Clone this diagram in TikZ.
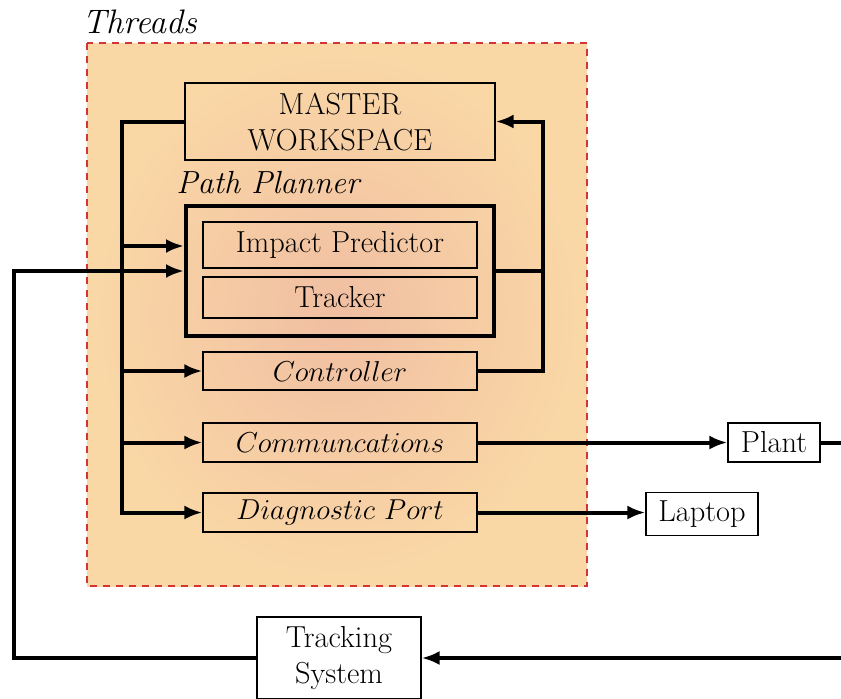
\documentclass[tikz,border=0pt]{standalone}
\usetikzlibrary{arrows.meta}
\definecolor{shin}{RGB}{240,190,162}
\definecolor{shout}{RGB}{250,216,166}
\definecolor{dashred}{RGB}{214,52,52}
\begin{document}
\begin{tikzpicture}[x=0.5pt,y=-0.5pt,
  box/.style={draw,line width=0.6pt,inner sep=0pt,minimum width=137pt,font=\fontsize{15.2}{18}\selectfont},
  obox/.style={draw,line width=0.6pt,inner sep=0pt,font=\fontsize{15.2}{18}\selectfont,fill=white},
  conn/.style={line width=2pt},
  arr/.style={-{Latex[length=9pt,width=7pt]}},
  lab/.style={anchor=west,inner sep=0pt}]
\useasboundingbox (0,0) rectangle (841,698);
\clip (0,0) rectangle (841,698);
% threads region
\shade[inner color=shin,outer color=shout] (87,43) rectangle (587,586);
\draw[dashred,line width=0.6pt,dash pattern=on 3.5pt off 3pt] (87,43) rectangle (587,586);
\node[lab,font=\fontsize{17}{20}\selectfont] (threads) at (82,22) {\textit{Threads}};
\node[lab,font=\fontsize{16}{19}\selectfont] (pplab) at (176,183) {\textit{Path Planner}};
% nodes
\node[box,minimum width=155pt,minimum height=38.5pt,align=center] (master) at (340,121.5) {MASTER\\WORKSPACE};
\node[draw,line width=2pt,inner sep=0pt,minimum width=154pt,minimum height=65pt] (pp) at (340,271) {};
\node[box,minimum height=23pt] (ip) at (340,245) {Impact Predictor};
\node[box,minimum height=20.5pt] (tr) at (340,297.5) {Tracker};
\node[box,minimum height=19pt] (ctrl) at (340,371) {$Controller$};
\node[box,minimum height=19.5pt] (comm) at (340,442.5) {$Communcations$};
\node[box,minimum height=19.5pt] (diag) at (340,512.5) {$Diagnostic\ Port$};
\node[obox,minimum width=46pt,minimum height=19.5pt] (plant) at (774,442.5) {Plant};
\node[obox,minimum width=56pt,minimum height=21.5pt] (laptop) at (702,514) {Laptop};
\node[obox,minimum width=82pt,minimum height=41pt,align=center] (track) at (339,658) {Tracking\\System};
% coordinates
\coordinate (bustop) at (122,121.5);
\coordinate (b1) at (122,246);
\coordinate (fb) at (14,271);
\coordinate (rc) at (543,371);
\coordinate (rp) at (543,271);
\coordinate (pr) at (843,442.5);
% connectors
\draw[conn,arr] (master.west) -- (bustop) |- (diag.west);
\draw[conn,arr] (b1) -- (b1 -| pp.west);
\draw[conn,arr] (bustop |- ctrl) -- (ctrl.west);
\draw[conn,arr] (bustop |- comm) -- (comm.west);
\draw[conn,arr] (track.west) -| (fb) -- (pp.west);
\draw[conn,arr] (ctrl.east) -- (rc) |- (master.east);
\draw[conn] (pp.east) -- (rp);
\draw[conn,arr] (comm.east) -- (plant.west);
\draw[conn,arr] (diag.east) -- (diag.east -| laptop.west);
\draw[conn,arr] (plant.east) -- (pr) |- (track.east);
\end{tikzpicture}
\end{document}
